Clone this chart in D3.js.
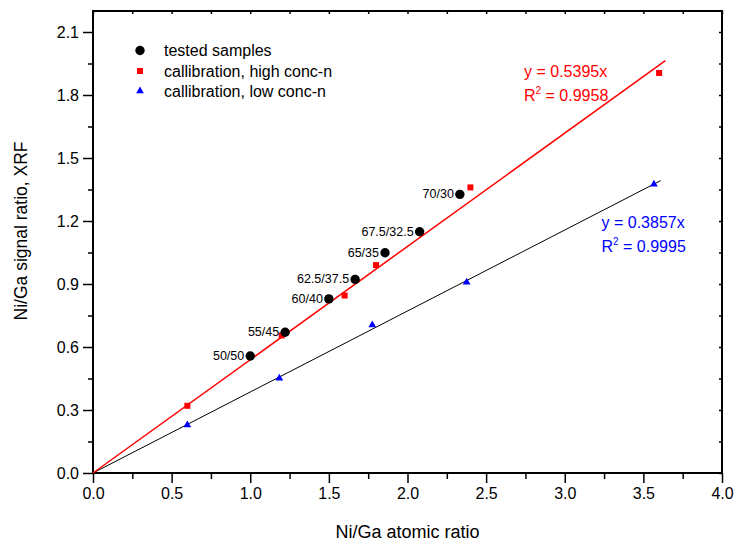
<!DOCTYPE html>
<html>
<head>
<meta charset="utf-8">
<script src="https://cdn.jsdelivr.net/npm/d3@7"></script>
<style>
html,body{margin:0;padding:0;background:#fff;}
svg{display:block;font-family:Arial,"Liberation Sans",sans-serif;}
</style>
</head>
<body>
<svg id="chart" width="736" height="544"></svg>
<script>
// ---- data ----
const sampleX = [1.0, 1.222, 1.5, 1.667, 1.857, 2.077, 2.333];
const sampleY = [0.557, 0.670, 0.829, 0.922, 1.049, 1.149, 1.327];
const sampleLabels = ["50/50", "55/45", "60/40", "62.5/37.5", "65/35", "67.5/32.5", "70/30"];
const highX = [0.6, 1.2, 1.6, 1.8, 2.4, 3.6];
const highY = [0.32, 0.655, 0.845, 0.99, 1.36, 1.905];
const lowX = [0.6, 1.185, 1.776, 2.376, 3.567];
const lowY = [0.229, 0.451, 0.705, 0.908, 1.375];
const highSlope = 0.5395, highR2 = "0.9958", highXMax = 3.64;
const lowSlope = 0.3857, lowR2 = "0.9995", lowXMax = 3.61;
const xMajor = [0, 0.5, 1, 1.5, 2, 2.5, 3, 3.5, 4];
const xMinor = [0.25, 0.75, 1.25, 1.75, 2.25, 2.75, 3.25, 3.75];
const yMajor = [0, 0.3, 0.6, 0.9, 1.2, 1.5, 1.8, 2.1];
const yMinor = [0.15, 0.45, 0.75, 1.05, 1.35, 1.65, 1.95];
const legendLabels = ["tested samples", "callibration, high conc-n", "callibration, low conc-n"];
const xTitle = "Ni/Ga atomic ratio";
const yTitle = "Ni/Ga signal ratio, XRF";

const svg = d3.select("#chart");
const L = 93, R = 722, T = 11, B = 473;
const x = d3.scaleLinear().domain([0, 4]).range([L, R]);
const y = d3.scaleLinear().domain([0, 2.2]).range([B, T]);
const fmt = d3.format(".1f");

function styleAxis(g){ g.select(".domain").remove(); g.selectAll("line").attr("stroke","#000").attr("stroke-width",1.5); g.selectAll("text").attr("fill","#000").attr("font-size",16); }

// axes
svg.append("g").attr("transform",`translate(0,${B})`)
  .call(d3.axisBottom(x).tickValues(xMajor).tickFormat(fmt).tickSize(10).tickPadding(5)).call(styleAxis);
svg.append("g").attr("transform",`translate(0,${B})`)
  .call(d3.axisBottom(x).tickValues(xMinor).tickFormat("").tickSize(6)).call(styleAxis);
svg.append("g").attr("transform",`translate(${L},0)`)
  .call(d3.axisLeft(y).tickValues(yMajor).tickFormat(fmt).tickSize(10).tickPadding(4)).call(styleAxis);
svg.append("g").attr("transform",`translate(${L},0)`)
  .call(d3.axisLeft(y).tickValues(yMinor).tickFormat("").tickSize(5)).call(styleAxis);
svg.append("g").attr("transform",`translate(0,${T})`)
  .call(d3.axisTop(x).tickValues(xMajor.concat(xMinor)).tickFormat("").tickSize(-3)).call(styleAxis);
svg.append("g").attr("transform",`translate(${R},0)`)
  .call(d3.axisRight(y).tickValues(yMajor.concat(yMinor)).tickFormat("").tickSize(-3)).call(styleAxis);

svg.append("rect").attr("x",L).attr("y",T).attr("width",R-L).attr("height",B-T)
  .attr("fill","none").attr("stroke","#000").attr("stroke-width",2);

// fit lines
const line = d3.line().x(d=>x(d[0])).y(d=>y(d[1]));
svg.append("path").datum([[0,0],[lowXMax,lowSlope*lowXMax]]).attr("d",line)
  .attr("stroke","#000").attr("stroke-width",1).attr("fill","none");
svg.append("path").datum([[0,0],[highXMax,highSlope*highXMax]]).attr("d",line)
  .attr("stroke","#ff0000").attr("stroke-width",1.5).attr("fill","none");

// markers
const tri = d3.symbol().type(d3.symbolTriangle).size(26);
svg.append("g").selectAll("path").data(lowX).join("path")
  .attr("d",tri).attr("transform",(d,i)=>`translate(${x(d)},${y(lowY[i])})`).attr("fill","#0000ff");
svg.append("g").selectAll("rect").data(highX).join("rect")
  .attr("x",d=>x(d)-3).attr("y",(d,i)=>y(highY[i])-3).attr("width",6).attr("height",6).attr("fill","#ff0000");
svg.append("g").selectAll("circle").data(sampleX).join("circle")
  .attr("cx",d=>x(d)).attr("cy",(d,i)=>y(sampleY[i])).attr("r",4.7).attr("fill","#000");
svg.append("g").selectAll("text").data(sampleX).join("text")
  .attr("x",d=>x(d)-6).attr("y",(d,i)=>y(sampleY[i])+4).attr("text-anchor","end")
  .attr("font-size",12.5).attr("fill","#000").text((d,i)=>sampleLabels[i]);

// legend
const lg = svg.append("g");
const ly = [50.5, 71, 91];
lg.append("circle").attr("cx",140).attr("cy",ly[0]).attr("r",4.7).attr("fill","#000");
lg.append("rect").attr("x",137).attr("y",ly[1]-3).attr("width",6).attr("height",6).attr("fill","#ff0000");
lg.append("path").attr("d",tri).attr("transform",`translate(140,${ly[2]})`).attr("fill","#0000ff");
lg.selectAll("text").data(legendLabels).join("text")
  .attr("x",164).attr("y",(d,i)=>ly[i]+5.5).attr("font-size",16).attr("fill","#000").text(d=>d);

// equations
function eq(x0, y0, slope, r2, color){
  const g = svg.append("g").attr("fill",color).attr("font-size",16);
  g.append("text").attr("x",x0).attr("y",y0).text(`y = ${slope}x`);
  const t = g.append("text").attr("x",x0).attr("y",y0+24);
  t.append("tspan").text("R");
  t.append("tspan").attr("dy",-7).attr("font-size",10).text("2");
  t.append("tspan").attr("dy",7).text(` = ${r2}`);
}
eq(524, 76.5, highSlope, highR2, "#ff0000");
eq(601.5, 227.5, lowSlope, lowR2, "#0000ff");

// titles
svg.append("text").attr("x",(L+R)/2).attr("y",538).attr("text-anchor","middle")
  .attr("font-size",18).attr("fill","#000").text(xTitle);
svg.append("text").attr("transform",`translate(27,231) rotate(-90)`).attr("text-anchor","middle")
  .attr("font-size",17.5).attr("fill","#000").text(yTitle);
</script>
</body>
</html>
